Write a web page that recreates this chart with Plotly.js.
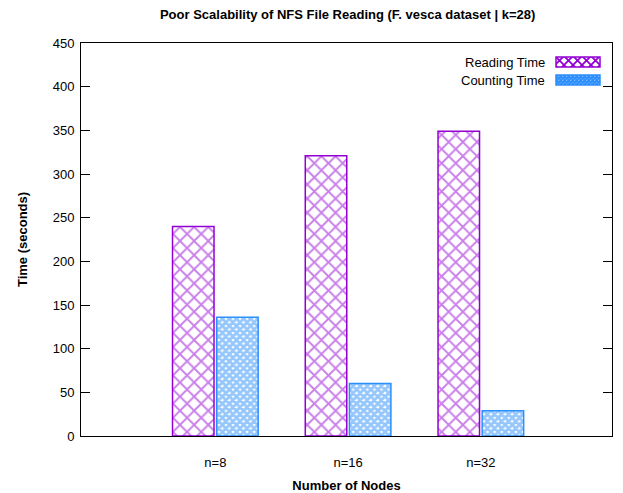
<!DOCTYPE html>
<html>
<head>
<meta charset="utf-8">
<script src="https://cdn.plot.ly/plotly-3.0.1.min.js"></script>
<style>html,body{margin:0;padding:0;background:#fff;}#chart{width:623px;height:493px;}</style>
</head>
<body>
<div id="chart"></div>
<script>
const categories = ["n=8", "n=16", "n=32"];
const readingTime = [240, 321, 349];
const countingTime = [136, 60, 29];
const seriesNames = ["Reading Time", "Counting Time"];

const purple = "#9400d3";
const blue = "#2b8ffc";
const FONT = "Liberation Sans, Arial, sans-serif";

function swatch(color, size, stroke) {
  const svg = `<svg xmlns='http://www.w3.org/2000/svg' width='46' height='12'>` +
    `<defs><pattern id='p' width='${size}' height='${size}' patternUnits='userSpaceOnUse'>` +
    `<path d='M0,0L${size},${size}M${size},0L0,${size}' stroke='${color}' stroke-width='${stroke}'/></pattern></defs>` +
    `<rect x='1' y='1' width='44' height='10' fill='white'/>` +
    `<rect x='1' y='1' width='44' height='10' fill='url(#p)' stroke='${color}' stroke-width='1.5'/></svg>`;
  return "data:image/svg+xml;charset=utf-8," + encodeURIComponent(svg);
}

const traces = [
  {
    type: "bar", x: categories, y: readingTime, name: seriesNames[0],
    marker: {color: "white", line: {color: purple, width: 1.5},
      pattern: {shape: "x", fgcolor: purple, bgcolor: "white", size: 10, solidity: 0.34, fillmode: "overlay"}},
    showlegend: false
  },
  {
    type: "bar", x: categories, y: countingTime, name: seriesNames[1],
    marker: {color: "white", line: {color: blue, width: 1.5},
      pattern: {shape: "x", fgcolor: blue, bgcolor: "white", size: 5, solidity: 0.8, fillmode: "overlay"}},
    showlegend: false
  }
];

const layout = {
  width: 623, height: 493,
  margin: {l: 81, r: 11, t: 43, b: 57},
  paper_bgcolor: "white", plot_bgcolor: "white",
  font: {family: FONT, size: 13, color: "#000"},
  title: {text: "<b>Poor Scalability of NFS File Reading (F. vesca dataset | k=28)</b>",
    font: {family: FONT, size: 13, color: "#000"}, x: 0.558, xanchor: "center", y: 0.97, yanchor: "middle"},
  barmode: "group", bargap: 0.335, bargroupgap: 0.06,
  xaxis: {
    type: "category", range: [-1.012, 2.988], showgrid: false, zeroline: false,
    showline: true, linecolor: "#000", linewidth: 1, mirror: true,
    ticks: "", tickfont: {family: FONT, size: 13}, ticklabelstandoff: 14,
    title: {text: "<b>Number of Nodes</b>", font: {family: FONT, size: 13}, standoff: 22}
  },
  yaxis: {
    range: [0, 450], dtick: 50, showgrid: false, zeroline: false,
    showline: true, linecolor: "#000", linewidth: 1, mirror: "ticks",
    ticks: "inside", ticklen: 9, tickcolor: "#000", tickwidth: 1,
    tickfont: {family: FONT, size: 13}, ticklabelstandoff: 3,
    title: {text: "<b>Time (seconds)</b>", font: {family: FONT, size: 13}, standoff: 22}
  },
  annotations: [
    {xref: "paper", yref: "paper", x: (547 - 81) / 531, y: (436 - 62) / 393, xanchor: "right", yanchor: "middle",
      text: seriesNames[0], showarrow: false, font: {family: FONT, size: 13}},
    {xref: "paper", yref: "paper", x: (547 - 81) / 531, y: (436 - 80) / 393, xanchor: "right", yanchor: "middle",
      text: seriesNames[1], showarrow: false, font: {family: FONT, size: 13}}
  ],
  images: [
    {source: swatch(purple, 9, 1.8), xref: "paper", yref: "paper", x: (555 - 81) / 531, y: (436 - 56) / 393,
      sizex: 46 / 531, sizey: 12 / 393, xanchor: "left", yanchor: "top", sizing: "stretch", layer: "above"},
    {source: swatch(blue, 4, 2), xref: "paper", yref: "paper", x: (555 - 81) / 531, y: (436 - 74) / 393,
      sizex: 46 / 531, sizey: 12 / 393, xanchor: "left", yanchor: "top", sizing: "stretch", layer: "above"}
  ]
};

Plotly.newPlot("chart", traces, layout, {displayModeBar: false, staticPlot: true});
</script>
</body>
</html>
